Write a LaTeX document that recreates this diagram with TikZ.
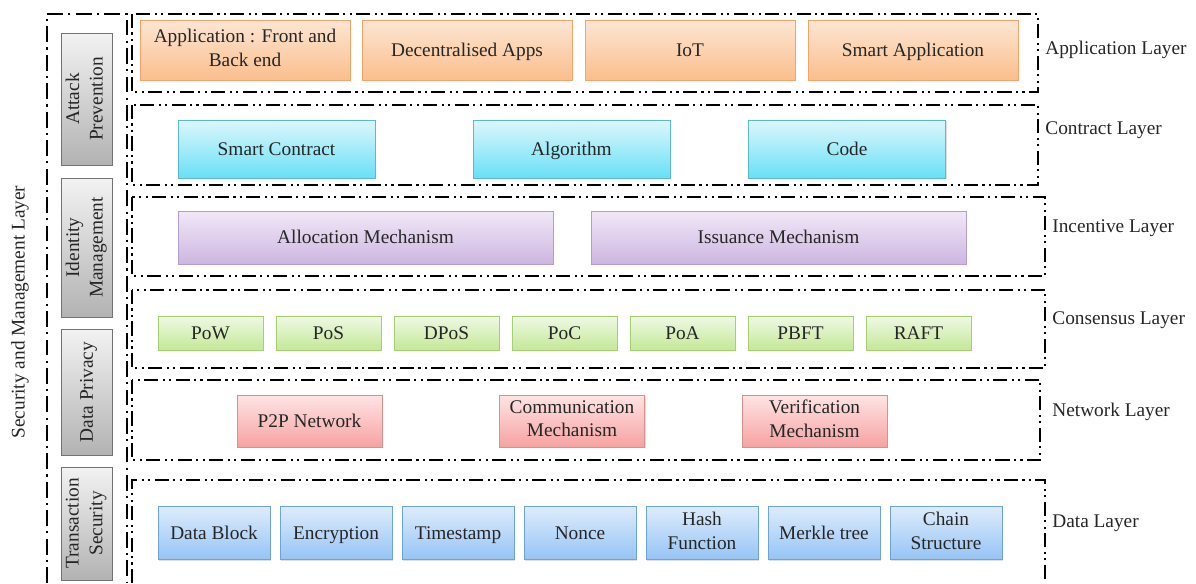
\documentclass[tikz,border=0pt]{standalone}
\usepackage{fontspec}
\setmainfont{Liberation Serif}
\usetikzlibrary{shadows}

\definecolor{apptop}{HTML}{FDE6D4}
\definecolor{appbot}{HTML}{FABE8C}
\definecolor{appdraw}{HTML}{F4A468}
\definecolor{contop}{HTML}{DDF7FC}
\definecolor{conbot}{HTML}{68E0F6}
\definecolor{condraw}{HTML}{5BB8CF}
\definecolor{inctop}{HTML}{F1E9F7}
\definecolor{incbot}{HTML}{CDB5E1}
\definecolor{incdraw}{HTML}{B39ECF}
\definecolor{constop}{HTML}{EFF9E3}
\definecolor{consbot}{HTML}{C3E898}
\definecolor{consdraw}{HTML}{A6CF72}
\definecolor{nettop}{HTML}{FFE4E4}
\definecolor{netbot}{HTML}{F6A2A2}
\definecolor{netdraw}{HTML}{DB8E8C}
\definecolor{datatop}{HTML}{DEECFC}
\definecolor{databot}{HTML}{95C4F5}
\definecolor{datadraw}{HTML}{6CA3D8}

\newcommand{\blkstrut}{\rule[-0.24em]{0pt}{1.14em}}

\tikzset{
  layerframe/.style={line width=1.4pt, dash pattern=on 8pt off 2.5pt on 1.2pt off 2.5pt on 1.2pt off 2.5pt},
  secframe/.style={line width=1.4pt, dash pattern=on 9pt off 3pt on 1.2pt off 3pt},
  block/.style={draw, rectangle, align=center, inner sep=1pt, text=black!85,
    font=\fontsize{11}{13.5}\selectfont,
    execute at begin node=\blkstrut, execute at end node=\blkstrut,
    drop shadow={shadow xshift=0.6pt, shadow yshift=-0.8pt, opacity=0.25}},
  appblock/.style={block, draw=appdraw, top color=apptop, bottom color=appbot, minimum width=4.2cm, minimum height=1.2cm},
  conblock/.style={block, draw=condraw, top color=contop, bottom color=conbot, minimum width=3.94cm, minimum height=1.16cm},
  incblock/.style={block, draw=incdraw, top color=inctop, bottom color=incbot, minimum width=7.5cm, minimum height=1.06cm},
  consblock/.style={block, draw=consdraw, top color=constop, bottom color=consbot, minimum width=2.1cm, minimum height=0.68cm},
  netblock/.style={block, draw=netdraw, top color=nettop, bottom color=netbot, minimum width=2.9cm, minimum height=1.04cm},
  datablock/.style={block, draw=datadraw, top color=datatop, bottom color=databot, minimum width=2.24cm, minimum height=1.06cm},
  secblock/.style={block, draw=black!55, top color=black!5, bottom color=black!30, rotate=90, minimum height=1.02cm},
  layerlabel/.style={anchor=west, inner sep=0pt, text=black!85, font=\fontsize{11}{13.5}\selectfont}
}

\begin{document}
\begin{tikzpicture}[x=0.02cm, y=-0.02cm]
\useasboundingbox (0,0) rectangle (1196,583);
\draw[secframe] (47,583) -- (47,14) -- (127,14) -- (127,583);
\node[rotate=90, text=black!85, font=\fontsize{11}{13.5}\selectfont] (secmgmt) at (20,312) {Security and Management Layer};
\node[secblock, minimum width=2.64cm] (attack) at (86.5,99) {Attack\\Prevention};
\node[secblock, minimum width=2.78cm] (identity) at (86.5,247.5) {Identity\\Management};
\node[secblock, minimum width=2.52cm] (privacy) at (86.5,392) {Data Privacy};
\node[secblock, minimum width=2.26cm] (transaction) at (86.5,523.5) {Transaction\\Security};

\draw[layerframe] (132,14) rectangle (1038,92);
\node[appblock] (frontback) at (245,50) {Application : Front and\\Back end};
\node[appblock] (dapps) at (467,50) {Decentralised Apps};
\node[appblock] (iot) at (690,50) {IoT};
\node[appblock] (smartapp) at (913,50) {Smart Application};
\node[layerlabel] (applayer) at (1045,50) {Application Layer};

\draw[layerframe] (132,105) rectangle (1038,185);
\node[conblock] (smartcon) at (276.5,149) {Smart Contract};
\node[conblock] (algo) at (571.5,149) {Algorithm};
\node[conblock] (code) at (847,149) {Code};
\node[layerlabel] (conlayer) at (1045,130) {Contract Layer};

\draw[layerframe] (132,197) rectangle (1045,276);
\node[incblock] (alloc) at (365.5,237.5) {Allocation Mechanism};
\node[incblock] (issue) at (778.5,237.5) {Issuance Mechanism};
\node[layerlabel] (inclayer) at (1052,228) {Incentive Layer};

\draw[layerframe] (132,290) rectangle (1045,368);
\foreach \name [count=\i from 0] in {PoW,PoS,DPoS,PoC,PoA,PBFT,RAFT}
\node[consblock] (cons\i) at (210.5+118*\i,333) {\name};
\node[layerlabel] (conslayer) at (1052,320) {Consensus Layer};

\draw[layerframe] (132,380) rectangle (1040,460);
\node[netblock] (p2p) at (309.5,421) {P2P Network};
\node[netblock] (comm) at (572,421) {Communication\\Mechanism};
\node[netblock] (verif) at (814.5,421) {Verification\\Mechanism};
\node[layerlabel] (netlayer) at (1052,412) {Network Layer};

\draw[layerframe] (132,583) -- (132,480) -- (1045,480) -- (1045,583);
\foreach \name [count=\i from 0] in {Data Block,Encryption,Timestamp,Nonce,Hash\\Function,Merkle tree,Chain\\Structure}
\node[datablock] (data\i) at (214+122*\i,533) {\name};
\node[layerlabel] (datalayer) at (1052,523) {Data Layer};
\end{tikzpicture}
\end{document}
